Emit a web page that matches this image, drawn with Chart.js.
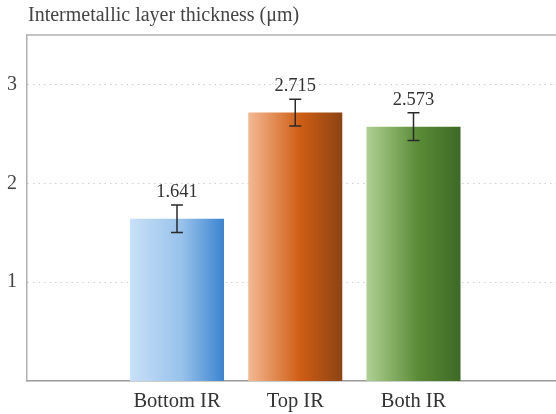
<!DOCTYPE html>
<html>
<head>
<meta charset="utf-8">
<script src="https://cdn.jsdelivr.net/npm/chart.js@4/dist/chart.umd.min.js"></script>
<style>
  html, body { margin: 0; padding: 0; background: #fff; }
  #wrap { width: 556px; height: 414px; }
</style>
</head>
<body>
<div id="wrap"><canvas id="myChart"></canvas></div>
<script>
'use strict';

var categories = ['Bottom IR', 'Top IR', 'Both IR'];
var thickness = [1.641, 2.715, 2.573];
var errors = [0.14, 0.135, 0.14];
var yTicks = [1, 2, 3];
var titleText = 'Intermetallic layer thickness (\u03bcm)';

// left, middle, right colour stops for each bar
var barStops = [
  ['#c8e0f8', '#98c2ea', '#3b84d0'],
  ['#f3b993', '#cf5e14', '#8c4313'],
  ['#afd093', '#5a8b36', '#3c6a25']
];

var serif = '"Liberation Serif", "DejaVu Serif", serif';

var points = thickness.map(function(v, i) {
  return { x: i + 1, y: v };
});

// gradient fill per bar, built once the bars have their pixel sizes
var gradientBars = {
  id: 'gradientBars',
  beforeDatasetsDraw: function(chart) {
    var ctx = chart.ctx;
    chart.getDatasetMeta(0).data.forEach(function(bar, i) {
      var g = ctx.createLinearGradient(bar.x - bar.width / 2, 0, bar.x + bar.width / 2, 0);
      var s = barStops[i];
      g.addColorStop(0, s[0]);
      g.addColorStop(0.55, s[1]);
      g.addColorStop(1, s[2]);
      bar.options.backgroundColor = g;
    });
  }
};

// error bars, value labels, the top frame line and the heading
var extras = {
  id: 'extras',
  afterDatasetsDraw: function(chart) {
    var ctx = chart.ctx;
    var y = chart.scales.y;
    var area = chart.chartArea;

    ctx.save();
    ctx.strokeStyle = '#c4c4c4';
    ctx.lineWidth = 2;
    ctx.beginPath();
    ctx.moveTo(area.left, area.top);
    ctx.lineTo(area.right, area.top);
    ctx.stroke();

    chart.getDatasetMeta(0).data.forEach(function(bar, i) {
      var top = y.getPixelForValue(thickness[i] + errors[i]);
      var bot = y.getPixelForValue(thickness[i] - errors[i]);
      ctx.strokeStyle = '#2a2a2a';
      ctx.lineWidth = 1.5;
      ctx.beginPath();
      ctx.moveTo(bar.x, top);
      ctx.lineTo(bar.x, bot);
      ctx.moveTo(bar.x - 6, top);
      ctx.lineTo(bar.x + 6, top);
      ctx.moveTo(bar.x - 6, bot);
      ctx.lineTo(bar.x + 6, bot);
      ctx.stroke();

      ctx.fillStyle = '#333';
      ctx.font = '18.5px ' + serif;
      ctx.textAlign = 'center';
      ctx.textBaseline = 'alphabetic';
      ctx.fillText(thickness[i].toFixed(3), bar.x, top - 8);
    });

    ctx.fillStyle = '#444';
    ctx.font = '20px ' + serif;
    ctx.textAlign = 'left';
    ctx.textBaseline = 'alphabetic';
    ctx.fillText(titleText, area.left + 1, 21);
    ctx.restore();
  }
};

var ctx = document.getElementById('myChart');

new Chart(ctx, {
  type: 'bar',
  data: {
    datasets: [{
      data: points,
      backgroundColor: barStops.map(function(s) { return s[1]; }),
      borderWidth: 0,
      barPercentage: 1,
      categoryPercentage: 0.795
    }]
  },
  options: {
    responsive: true,
    maintainAspectRatio: false,
    animation: false,
    layout: { padding: { top: 35, right: 0, left: 0, bottom: 0 } },
    plugins: {
      legend: { display: false },
      tooltip: { enabled: false }
    },
    scales: {
      x: {
        type: 'linear',
        offset: false,
        min: -0.2685,
        max: 4.205,
        afterBuildTicks: function(axis) {
          axis.ticks = categories.map(function(c, i) { return { value: i + 1 }; });
        },
        afterFit: function(axis) { axis.height = 33; },
        grid: { display: false, drawTicks: false, offset: false },
        border: { color: '#9a9a9a', width: 1.5 },
        ticks: {
          padding: 8,
          color: '#333',
          font: { family: serif, size: 20.5 },
          callback: function(v) { return categories[v - 1]; }
        }
      },
      y: {
        min: 0,
        max: 3.5,
        afterBuildTicks: function(axis) {
          axis.ticks = yTicks.map(function(v) { return { value: v }; });
        },
        afterFit: function(axis) { axis.width = 27; },
        grid: {
          color: '#cfcfcf',
          lineWidth: 1,
          drawTicks: false
        },
        border: { color: '#b0b0b0', width: 1.5, dash: [1.5, 4] },
        ticks: {
          padding: 10,
          color: '#444',
          font: { family: serif, size: 20 }
        }
      }
    }
  },
  plugins: [gradientBars, extras]
});
</script>
</body>
</html>
